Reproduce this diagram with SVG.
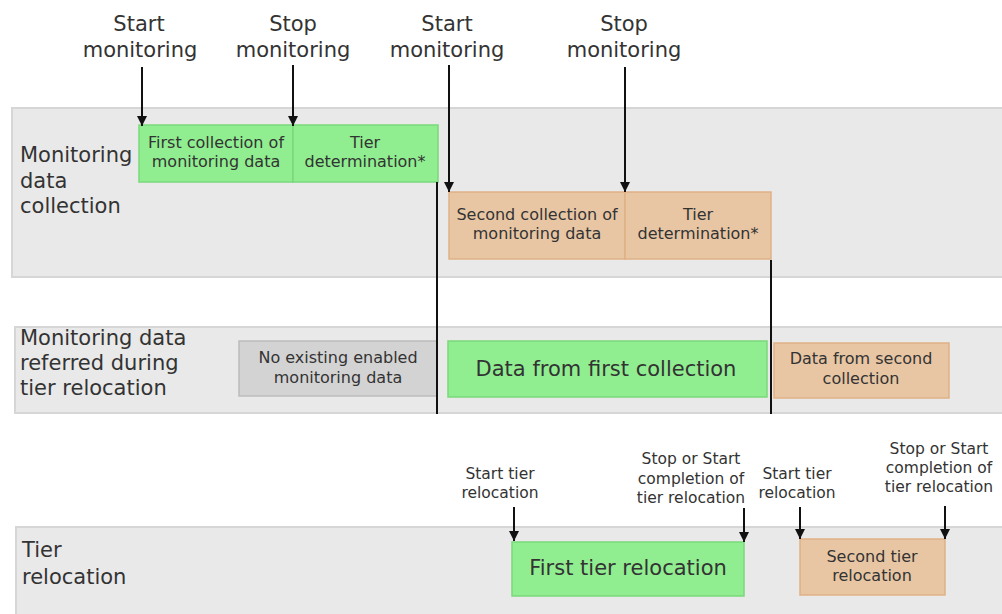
<svg xmlns="http://www.w3.org/2000/svg" width="1002" height="614" viewBox="0 0 1002 614">
<style>
text{font-family:"DejaVu Sans",Verdana,sans-serif;fill:#333}
.band{fill:#e9e9e9;stroke:#d6d6d6;stroke-width:2}
.g{fill:#90ee90;stroke:#7ad97a;stroke-width:1.5}
.o{fill:#e8c6a4;stroke:#e0b185;stroke-width:1.5}
.gr{fill:#d3d3d3;stroke:#bcbcbc;stroke-width:1.5}
.lbl{font-size:21px}
.bx{font-size:16px;text-anchor:middle}
.big{font-size:21px;text-anchor:middle}
.top{font-size:21px;text-anchor:middle}
.sm{font-size:15.5px;text-anchor:middle}
.arr{stroke:#111;stroke-width:2;fill:none;marker-end:url(#ah)}
.sep{stroke:#111;stroke-width:2;fill:none}
</style>
<defs>
<marker id="ah" viewBox="0 0 10 10" refX="10" refY="5" markerWidth="10" markerHeight="11" markerUnits="userSpaceOnUse" orient="auto"><path d="M0,0 L10,5 L0,10 z" fill="#111"/></marker>
</defs>

<g id="band-collection">
<rect class="band" x="12" y="108" width="995" height="169"/>
<text class="lbl" x="20" y="162">Monitoring</text>
<text class="lbl" x="20" y="188">data</text>
<text class="lbl" x="20" y="213">collection</text>
</g>
<g id="band-referred">
<rect class="band" x="15" y="327" width="992" height="86"/>
<text class="lbl" x="20" y="345">Monitoring data</text>
<text class="lbl" x="20" y="370">referred during</text>
<text class="lbl" x="20" y="395">tier relocation</text>
</g>
<g id="band-relocation">
<rect class="band" x="16" y="527" width="991" height="95"/>
<text class="lbl" x="22" y="557">Tier</text>
<text class="lbl" x="22" y="584">relocation</text>
</g>

<g id="first-collection">
<rect class="g" x="139" y="125" width="154" height="57"/>
<text class="bx" x="216" y="148">First collection of</text>
<text class="bx" x="216" y="167">monitoring data</text>
</g>
<g id="first-tier-determination">
<rect class="g" x="293" y="125" width="145" height="57"/>
<text class="bx" x="365" y="148">Tier</text>
<text class="bx" x="365" y="167">determination*</text>
</g>
<g id="second-collection">
<rect class="o" x="449" y="192" width="176" height="67"/>
<text class="bx" x="537" y="220">Second collection of</text>
<text class="bx" x="537" y="239">monitoring data</text>
</g>
<g id="second-tier-determination">
<rect class="o" x="625" y="192" width="146" height="67"/>
<text class="bx" x="698" y="220">Tier</text>
<text class="bx" x="698" y="239">determination*</text>
</g>

<g id="no-data">
<rect class="gr" x="239" y="341" width="198" height="55"/>
<text class="bx" x="338" y="363">No existing enabled</text>
<text class="bx" x="338" y="383">monitoring data</text>
</g>
<g id="data-first">
<rect class="g" x="448" y="341" width="319" height="56"/>
<text class="big" x="606" y="376">Data from first collection</text>
</g>
<g id="data-second">
<rect class="o" x="774" y="343" width="175" height="55"/>
<text class="bx" x="861" y="364">Data from second</text>
<text class="bx" x="861" y="384">collection</text>
</g>

<g id="first-tier-relocation">
<rect class="g" x="512" y="542" width="232" height="54"/>
<text class="big" x="628" y="575">First tier relocation</text>
</g>
<g id="second-tier-relocation">
<rect class="o" x="800" y="539" width="145" height="56"/>
<text class="bx" x="872" y="562">Second tier</text>
<text class="bx" x="872" y="581">relocation</text>
</g>

<g id="labels">
<text class="top" x="139" y="31">Start</text>
<text class="top" x="140" y="57">monitoring</text>
<text class="top" x="293" y="31">Stop</text>
<text class="top" x="293" y="57">monitoring</text>
<text class="top" x="447" y="31">Start</text>
<text class="top" x="447" y="57">monitoring</text>
<text class="top" x="624" y="31">Stop</text>
<text class="top" x="624" y="57">monitoring</text>
<text class="sm" x="500" y="479">Start tier</text>
<text class="sm" x="500" y="498">relocation</text>
<text class="sm" x="691" y="464">Stop or Start</text>
<text class="sm" x="691" y="484">completion of</text>
<text class="sm" x="691" y="503">tier relocation</text>
<text class="sm" x="797" y="479">Start tier</text>
<text class="sm" x="797" y="498">relocation</text>
<text class="sm" x="939" y="454">Stop or Start</text>
<text class="sm" x="939" y="473">completion of</text>
<text class="sm" x="939" y="492">tier relocation</text>
</g>

<g id="connectors">
<line class="arr" x1="142" y1="67" x2="142" y2="126"/>
<line class="arr" x1="293" y1="65" x2="293" y2="126"/>
<line class="arr" x1="449" y1="65" x2="449" y2="192"/>
<line class="arr" x1="625" y1="67" x2="625" y2="192"/>
<line class="sep" x1="437" y1="182" x2="437" y2="414"/>
<line class="sep" x1="771" y1="260" x2="771" y2="414"/>
<line class="arr" x1="514" y1="507" x2="514" y2="541"/>
<line class="arr" x1="744" y1="508" x2="744" y2="542"/>
<line class="arr" x1="800" y1="507" x2="800" y2="539"/>
<line class="arr" x1="945" y1="506" x2="945" y2="539"/>
</g>
</svg>
